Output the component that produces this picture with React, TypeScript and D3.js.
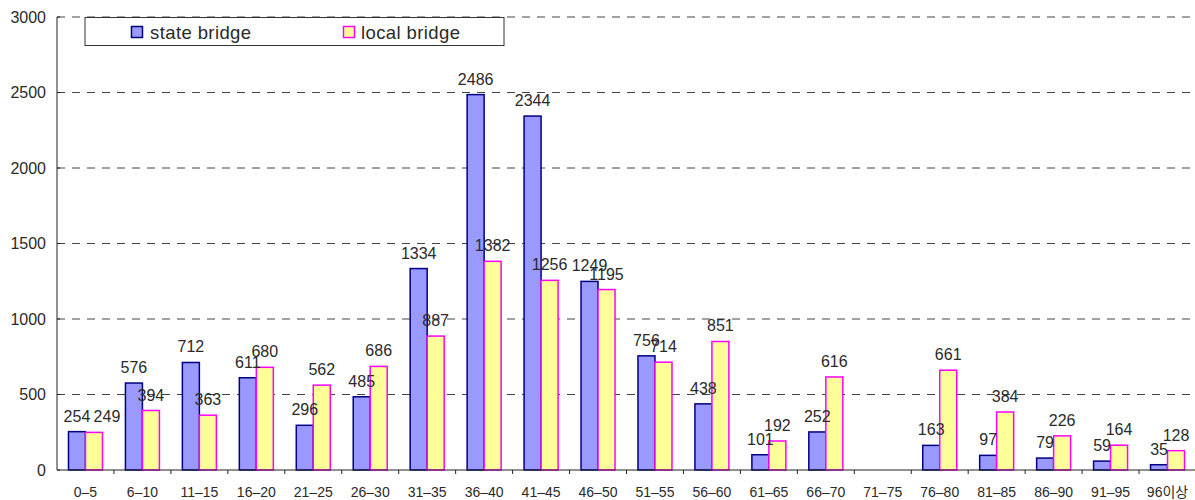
import React from 'react';
import * as d3 from 'd3';

const categories = ['0-5', '6-10', '11-15', '16-20', '21-25', '26-30', '31-35', '36-40', '41-45', '46-50',
  '51-55', '56-60', '61-65', '66-70', '71-75', '76-80', '81-85', '86-90', '91-95', '96이상'];
const stateBridge: (number | null)[] = [254, 576, 712, 611, 296, 485, 1334, 2486, 2344, 1249,
  756, 438, 101, 252, null, 163, 97, 79, 59, 35];
const localBridge: (number | null)[] = [249, 394, 363, 680, 562, 686, 887, 1382, 1256, 1195,
  714, 851, 192, 616, null, 661, 384, 226, 164, 128];
const yTicks = [0, 500, 1000, 1500, 2000, 2500, 3000];

const W = 1195;
const H = 500;
const FONT = '"Liberation Sans", Arial, "Noto Sans CJK KR", sans-serif';

export default function App() {
  const left = 57, right = 1195, top = 17, bottom = 470;

  const x = d3.scaleBand<string>().domain(categories).range([left, right + 1]);
  const y = d3.scaleLinear().domain([0, 3000]).range([bottom, top]);
  const barW = 17;

  const series = [
    { key: 'state', values: stateBridge, fill: '#9999FF', stroke: '#000080' },
    { key: 'local', values: localBridge, fill: '#FFFF99', stroke: '#FF00FF' },
  ];

  return (
    <svg width={W} height={H} style={{ position: 'absolute', left: 0, top: 0, background: '#fff' }}
      fontFamily={FONT}>
      {/* gridlines */}
      {yTicks.filter(t => t > 0).map(t => (
        <line key={t} x1={left} x2={right} y1={y(t)} y2={y(t)} stroke="#444" strokeWidth={1}
          strokeDasharray="8,7" />
      ))}
      {/* y axis */}
      <line x1={left} x2={left} y1={top} y2={bottom} stroke="#222" />
      {yTicks.map(t => (
        <g key={t}>
          <line x1={left} x2={left + 3} y1={y(t)} y2={y(t)} stroke="#222" />
          <text x={46} y={y(t)} dy="0.35em" textAnchor="end" fontSize={16} fill="#2a2a2a">{t}</text>
        </g>
      ))}
      {/* bars */}
      {categories.map((c, i) => {
        const cx = x(c)! + x.bandwidth() / 2;
        const sv = stateBridge[i];
        const lv = localBridge[i];
        const sx = cx - barW;
        const lx = cx;
        // push local label right if both labels sit on the same line
        const sLabelX = sx + barW / 2;
        let lLabelX = lx + barW / 2;
        if (sv != null && lv != null && Math.abs(y(sv) - y(lv)) < 3) {
          lLabelX = sLabelX + 30;
        }
        return (
          <g key={c}>
            {series.map((s, k) => {
              const v = s.values[i];
              if (v == null) return null;
              const bx = k === 0 ? sx : lx;
              return (
                <rect key={s.key} x={bx} y={y(v)} width={barW} height={bottom - y(v)}
                  fill={s.fill} stroke={s.stroke} strokeWidth={1.5} />
              );
            })}
            {sv != null && (
              <text x={sLabelX} y={y(sv) - 10} textAnchor="middle" fontSize={16} fill="#2a2a2a">{sv}</text>
            )}
            {lv != null && (
              <text x={lLabelX} y={y(lv) - 10} textAnchor="middle" fontSize={16} fill="#2a2a2a">{lv}</text>
            )}
          </g>
        );
      })}
      {/* x axis */}
      <line x1={left} x2={right} y1={bottom} y2={bottom} stroke="#222" />
      {categories.map((c, i) => (
        <g key={c}>
          {i > 0 && <line x1={x(c)} x2={x(c)} y1={bottom} y2={bottom + 4} stroke="#222" />}
          <text x={x(c)! + x.bandwidth() / 2} y={497} textAnchor="middle" fontSize={14} fill="#2a2a2a">
            {c.replace('-', '–')}
          </text>
        </g>
      ))}
      {/* legend */}
      <rect x={85} y={17.5} width={419} height={28} fill="#fff" stroke="#333" />
      <rect x={131.5} y={26.5} width={11} height={11} fill="#9999FF" stroke="#000080" strokeWidth={1.5} />
      <text x={150} y={38.5} fontSize={18.5} letterSpacing={0.4} fill="#2a2a2a">state bridge</text>
      <rect x={343.5} y={26.5} width={11} height={11} fill="#FFFF99" stroke="#FF00FF" strokeWidth={1.5} />
      <text x={361} y={38.5} fontSize={18.5} letterSpacing={0.4} fill="#2a2a2a">local bridge</text>
    </svg>
  );
}
